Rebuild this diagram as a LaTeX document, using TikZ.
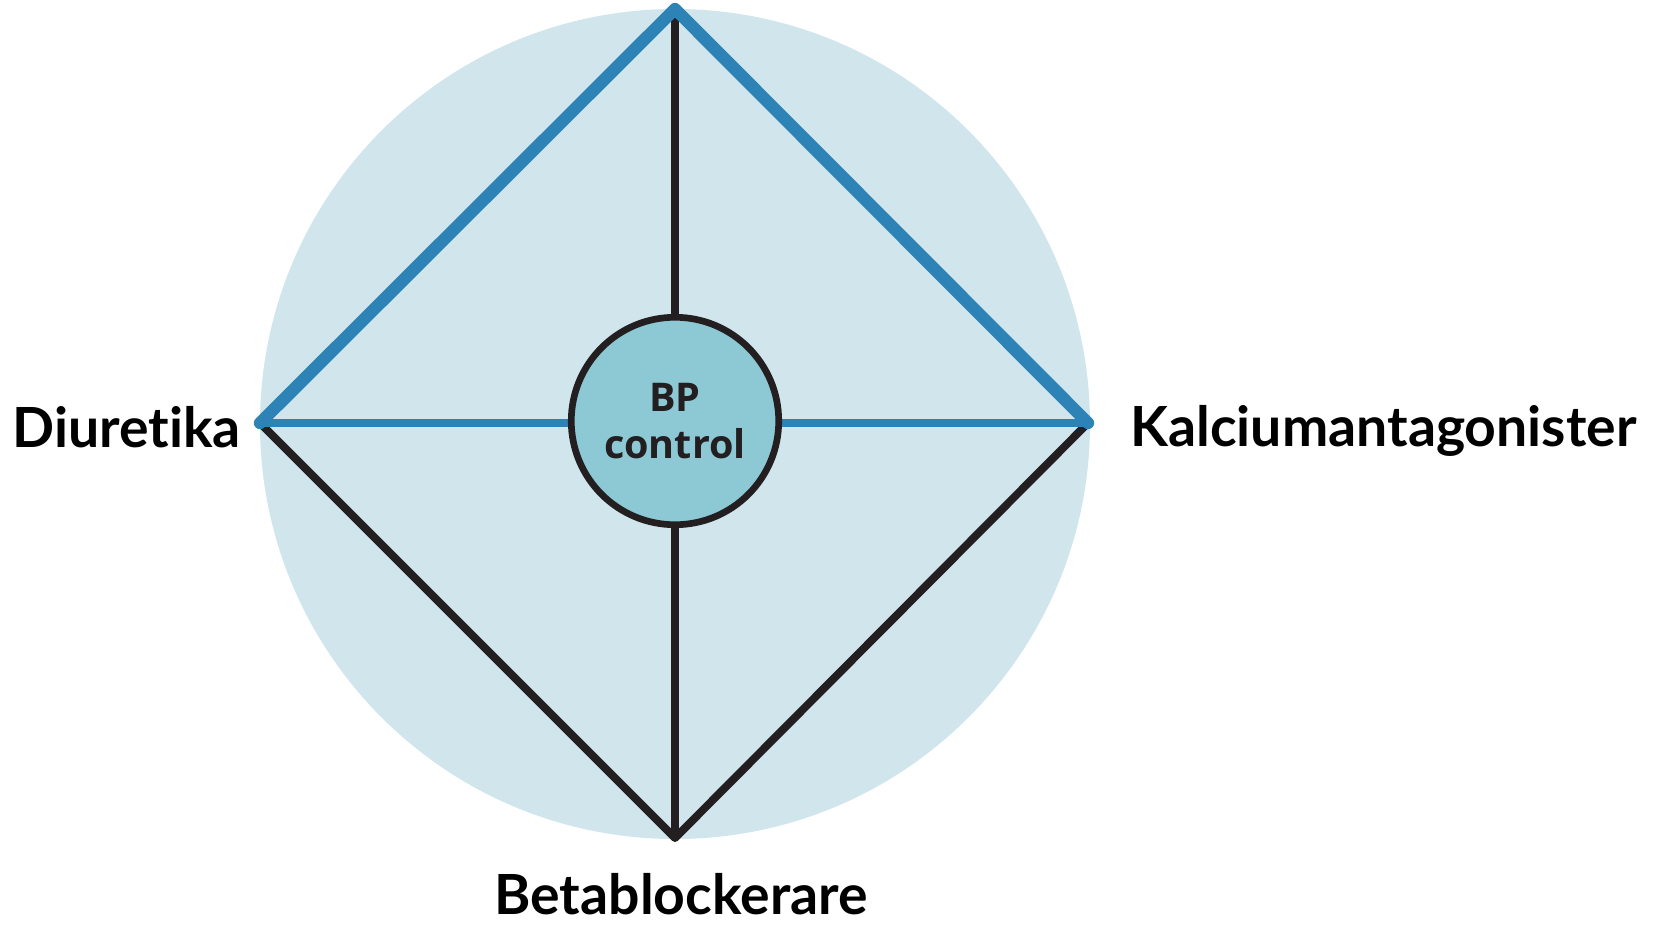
\documentclass[tikz,border=0pt]{standalone}
\usepackage{fontspec}
\setmainfont{Lato}[Ligatures=NoCommon]
\newfontfamily\hubfont{Open Sans}
\usetikzlibrary{shapes,arrows,positioning}
\definecolor{disc}{HTML}{D0E6EC}
\definecolor{hub}{HTML}{8DC8D5}
\definecolor{edgeblue}{HTML}{2E83B6}
\definecolor{ink}{HTML}{231F20}

\begin{document}
\begin{tikzpicture}[x=0.02cm,y=-0.02cm,
  drug/.style={font=\bfseries\fontsize{31.5}{34}\selectfont, inner sep=0pt},
  blueline/.style={draw=edgeblue, line width=7pt, line join=round, line cap=round},
  blackline/.style={draw=ink, line width=4.5pt, line join=round, line cap=round}]
\useasboundingbox (0,0) rectangle (1654,924);
\fill[disc] (675,424) circle (415);
\coordinate (top) at (675,9);
\coordinate (bot) at (675,838);
\coordinate (lft) at (260,423);
\coordinate (rgt) at (1088,423);
% lines
\draw[blackline] (lft) -- (bot) -- (rgt);
\draw[blackline, line width=4pt] (top) -- (bot);
\draw[blueline, line width=5pt] (lft) -- (rgt);
\draw[blueline] (lft) -- (top) -- (rgt);
\node[circle, draw=ink, fill=hub, line width=3.8pt, inner sep=0pt, minimum size=4.15cm,
  align=center, text=ink, font=\hubfont\bfseries\fontsize{22.5}{27}\selectfont] (bp) at (675,421) {BP\\control};
% labels
\node[drug, anchor=east] (diu) at (241,427) {Diuretika};
\node[drug, anchor=west] (kal) at (1130,431) {Kalciumantagonister};
\node[drug] (beta) at (681,894) {Betablockerare};
\end{tikzpicture}
\end{document}
